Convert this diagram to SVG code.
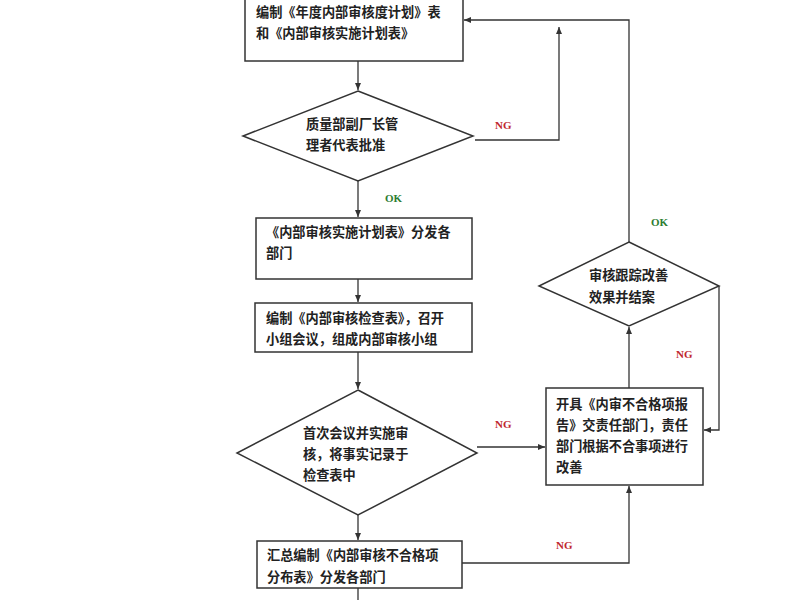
<svg xmlns="http://www.w3.org/2000/svg" width="800" height="600" viewBox="0 0 800 600">
<style>
.n{fill:#fff;stroke:#333;stroke-width:1.5}
.t{font-family:"Liberation Serif","Noto Sans CJK SC",serif;font-size:13.2px;font-weight:bold;fill:#222}
.c line,.c polyline{fill:none;stroke:#333;stroke-width:1.3}
.ng{font-family:"Liberation Serif",serif;font-size:11px;font-weight:bold;fill:#c0282e}
.ok{font-family:"Liberation Serif",serif;font-size:11px;font-weight:bold;fill:#2e7d32}
</style>
<defs><marker id="a" markerWidth="8" markerHeight="8" refX="7" refY="4" orient="auto" markerUnits="userSpaceOnUse"><path d="M0,1 L7,4 L0,7z" fill="#333"/></marker></defs>
<rect width="800" height="600" fill="#fff"/>
<g class="c">
<line x1="358" y1="61" x2="358" y2="90" marker-end="url(#a)"/>
<polyline points="475,140 559,140 559,27" marker-end="url(#a)"/>
<polyline points="629,242 629,20 464,20" marker-end="url(#a)"/>
<line x1="358" y1="181" x2="358" y2="217" marker-end="url(#a)"/>
<line x1="358" y1="279" x2="358" y2="302" marker-end="url(#a)"/>
<line x1="358" y1="352" x2="358" y2="389" marker-end="url(#a)"/>
<line x1="477" y1="447" x2="545" y2="447" marker-end="url(#a)"/>
<line x1="358" y1="515" x2="358" y2="540" marker-end="url(#a)"/>
<polyline points="462,563 629,563 629,486" marker-end="url(#a)"/>
<line x1="629" y1="388" x2="629" y2="327" marker-end="url(#a)"/>
<polyline points="719,286 719,430 704,430" marker-end="url(#a)"/>
<line x1="358" y1="588" x2="358" y2="600"/>
</g>
<g id="n1"><rect class="n" x="245" y="-5" width="218" height="66"/><text class="t" x="256" y="17">编制《年度内部审核度计划》表</text><text class="t" x="256" y="38">和《内部审核实施计划表》</text></g>
<g id="n2"><polygon class="n" points="358,91 473,136 358,181 243,136"/><text class="t" x="306" y="129">质量部副厂长管</text><text class="t" x="306" y="150">理者代表批准</text></g>
<g id="n3"><rect class="n" x="256" y="218" width="216" height="61"/><text class="t" x="266" y="237">《内部审核实施计划表》分发各</text><text class="t" x="266" y="258">部门</text></g>
<g id="n4"><rect class="n" x="255" y="303" width="217" height="49"/><text class="t" x="266" y="323">编制《内部审核检查表》，召开</text><text class="t" x="266" y="344">小组会议，组成内部审核小组</text></g>
<g id="n5"><polygon class="n" points="358,390 477,453 358,515 237,453"/><text class="t" x="303" y="438">首次会议并实施审</text><text class="t" x="303" y="459">核，将事实记录于</text><text class="t" x="303" y="480">检查表中</text></g>
<g id="n6"><rect class="n" x="546" y="388" width="157" height="97"/><text class="t" x="556" y="409">开具《内审不合格项报</text><text class="t" x="556" y="430">告》交责任部门，责任</text><text class="t" x="556" y="451">部门根据不合事项进行</text><text class="t" x="556" y="472">改善</text></g>
<g id="n7"><rect class="n" x="257" y="541" width="205" height="47"/><text class="t" x="267" y="560">汇总编制《内部审核不合格项</text><text class="t" x="267" y="582">分布表》分发各部门</text></g>
<g id="n8"><polygon class="n" points="629,242 719,286 629,326 539,286"/><text class="t" x="589" y="280">审核跟踪改善</text><text class="t" x="589" y="302">效果并结案</text></g>
<text class="ng" x="495" y="129">NG</text>
<text class="ok" x="385" y="202">OK</text>
<text class="ok" x="651" y="226">OK</text>
<text class="ng" x="676" y="358">NG</text>
<text class="ng" x="495" y="428">NG</text>
<text class="ng" x="556" y="549">NG</text>
</svg>
